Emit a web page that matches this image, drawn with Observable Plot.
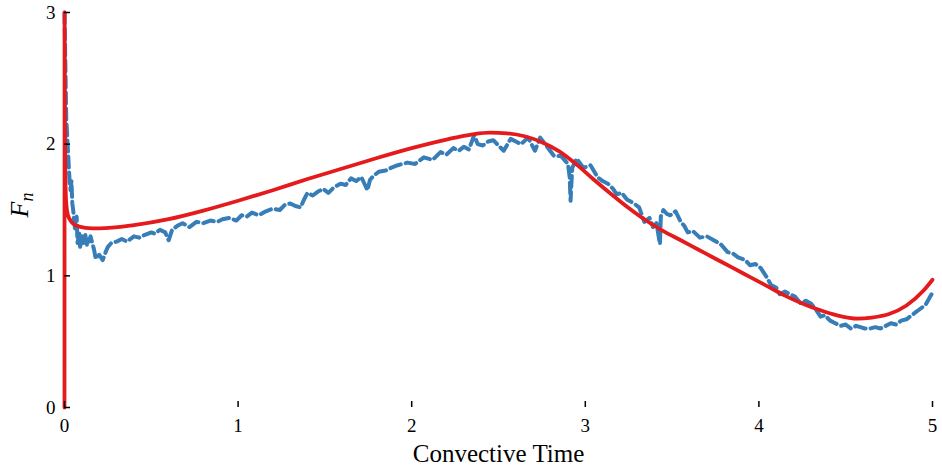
<!DOCTYPE html>
<html><head><meta charset="utf-8">
<script src="https://cdn.jsdelivr.net/npm/d3@7"></script>
<script src="https://cdn.jsdelivr.net/npm/@observablehq/plot@0.6"></script>
<style>body{margin:0;background:#fff}</style>
</head><body><div id="chart"></div>
<script>
const xTicks = [0, 1, 2, 3, 4, 5];
const yTicks = [0, 1, 2, 3];
const xLabel = "Convective Time";

const modelT = [0, 0.0005, 0.002, 0.005, 0.01, 0.02, 0.04, 0.07, 0.12, 0.2, 0.4, 0.6, 0.8, 1.0, 1.2, 1.4, 1.6, 1.8, 2.0, 2.2, 2.35, 2.45, 2.55, 2.65, 2.75, 2.85, 2.95, 3.05, 3.15, 3.25, 3.35, 3.45, 3.55, 3.65, 3.75, 3.85, 3.95, 4.05, 4.15, 4.25, 4.35, 4.45, 4.57, 4.65, 4.75, 4.85, 4.95, 5.0];
const modelF = [0, 3.0, 2.2, 1.75, 1.55, 1.46, 1.41, 1.38, 1.365, 1.36, 1.385, 1.43, 1.495, 1.57, 1.65, 1.735, 1.815, 1.895, 1.97, 2.035, 2.075, 2.088, 2.082, 2.06, 2.015, 1.945, 1.845, 1.73, 1.62, 1.515, 1.42, 1.34, 1.27, 1.2, 1.13, 1.06, 0.99, 0.92, 0.85, 0.79, 0.74, 0.7, 0.675, 0.683, 0.71, 0.775, 0.89, 0.97];

const simT = [0, 0.005, 0.01, 0.02, 0.03, 0.035, 0.04, 0.045, 0.05, 0.06, 0.065, 0.07, 0.075, 0.085, 0.09, 0.1, 0.11, 0.12, 0.13, 0.15, 0.17, 0.18, 0.2, 0.22, 0.24, 0.25, 0.27, 0.3, 0.33, 0.36, 0.4, 0.43, 0.46, 0.5, 0.52, 0.55, 0.58, 0.6, 0.62, 0.65, 0.68, 0.72, 0.76, 0.8, 0.84, 0.88, 0.91, 0.95, 0.99, 1.02, 1.05, 1.08, 1.12, 1.16, 1.2, 1.24, 1.27, 1.3, 1.33, 1.36, 1.38, 1.4, 1.43, 1.46, 1.49, 1.52, 1.55, 1.59, 1.62, 1.65, 1.68, 1.71, 1.745, 1.76, 1.78, 1.81, 1.85, 1.88, 1.92, 1.975, 2.02, 2.07, 2.12, 2.166, 2.2, 2.24, 2.27, 2.3, 2.33, 2.36, 2.38, 2.41, 2.44, 2.47, 2.5, 2.53, 2.57, 2.6, 2.63, 2.67, 2.71, 2.74, 2.78, 2.82, 2.86, 2.9, 2.91, 2.915, 2.92, 2.925, 2.95, 2.99, 3.03, 3.07, 3.1, 3.13, 3.16, 3.18, 3.21, 3.24, 3.28, 3.31, 3.34, 3.37, 3.39, 3.41, 3.43, 3.435, 3.45, 3.47, 3.49, 3.52, 3.55, 3.57, 3.59, 3.62, 3.66, 3.7, 3.74, 3.78, 3.82, 3.85, 3.88, 3.92, 3.95, 3.98, 4.01, 4.04, 4.07, 4.1, 4.12, 4.15, 4.18, 4.21, 4.24, 4.27, 4.3, 4.33, 4.355, 4.38, 4.41, 4.44, 4.47, 4.5, 4.53, 4.56, 4.585, 4.61, 4.64, 4.67, 4.7, 4.73, 4.76, 4.79, 4.82, 4.85, 4.87, 4.9, 4.93, 4.96, 4.99, 5.0];
const simF = [3.0, 2.6, 2.2, 1.95, 1.7, 1.65, 1.72, 1.55, 1.5, 1.36, 1.42, 1.45, 1.25, 1.32, 1.22, 1.3, 1.25, 1.31, 1.23, 1.3, 1.2, 1.13, 1.16, 1.12, 1.19, 1.22, 1.25, 1.26, 1.28, 1.26, 1.3, 1.29, 1.31, 1.33, 1.32, 1.35, 1.33, 1.27, 1.35, 1.38, 1.40, 1.37, 1.41, 1.40, 1.42, 1.41, 1.43, 1.44, 1.42, 1.46, 1.45, 1.48, 1.46, 1.49, 1.51, 1.50, 1.54, 1.55, 1.53, 1.52, 1.58, 1.63, 1.61, 1.64, 1.66, 1.63, 1.67, 1.70, 1.69, 1.74, 1.72, 1.75, 1.65, 1.73, 1.76, 1.79, 1.80, 1.82, 1.84, 1.86, 1.85, 1.90, 1.88, 1.94, 1.92, 1.97, 1.95, 1.98, 1.96, 2.07, 2.0, 1.99, 2.02, 2.03, 1.99, 1.95, 2.04, 2.02, 2.00, 2.05, 1.95, 2.05, 1.98, 1.91, 1.91, 1.85, 1.75, 1.57, 1.70, 1.82, 1.89, 1.82, 1.84, 1.75, 1.72, 1.70, 1.66, 1.62, 1.63, 1.58, 1.55, 1.52, 1.41, 1.44, 1.37, 1.40, 1.24, 1.45, 1.50, 1.47, 1.46, 1.49, 1.41, 1.38, 1.33, 1.34, 1.29, 1.30, 1.27, 1.24, 1.18, 1.17, 1.14, 1.12, 1.08, 1.09, 1.06, 1.00, 0.93, 0.91, 0.86, 0.88, 0.86, 0.84, 0.79, 0.81, 0.79, 0.74, 0.69, 0.70, 0.66, 0.64, 0.62, 0.63, 0.60, 0.62, 0.61, 0.60, 0.60, 0.61, 0.60, 0.62, 0.64, 0.63, 0.66, 0.67, 0.69, 0.72, 0.75, 0.78, 0.85, 0.87];

const model = modelT.map((t, i) => ({t, f: modelF[i]}));
const sim = simT.map((t, i) => ({t, f: simF[i]}));

const font = "'Liberation Serif', serif";
const W = 942, H = 469, ML = 64, MR = 10, MT = 12, MB = 62;
const chart = Plot.plot({
  width: W,
  height: H,
  marginLeft: ML,
  marginRight: MR,
  marginTop: MT,
  marginBottom: MB,
  style: {fontFamily: font, fontSize: "19px", background: "#fff", color: "#000"},
  x: {domain: [0, 5], ticks: xTicks, label: null},
  y: {domain: [0, 3], ticks: yTicks, label: null},
  marks: [
    Plot.line(sim, {x: "t", y: "f", stroke: "#377eb8", strokeWidth: 4, strokeDasharray: "11,5", strokeLinejoin: "round"}),
    Plot.line(model, {x: "t", y: "f", stroke: "#e41a1c", strokeWidth: 3.8, curve: "monotone-x"}),
    Plot.tickX(xTicks, {x: d => d, stroke: "#000", strokeWidth: 1.5, insetTop: H - MT - MB - 6}),
    Plot.tickY(yTicks, {y: d => d, stroke: "#000", strokeWidth: 1.5, insetRight: W - ML - MR - 6}),
    Plot.axisX({ticks: xTicks, tickSize: 0, tickPadding: 11, tickFormat: d3.format("d"), line: true, stroke: "#000", strokeWidth: 1.5, label: null, fontSize: 19}),
    Plot.axisY({ticks: yTicks, tickSize: 0, tickPadding: 9, tickFormat: d3.format("d"), line: true, stroke: "#000", strokeWidth: 1.5, label: null, fontSize: 19}),
    Plot.text([xLabel], {frameAnchor: "bottom", dy: 54, fontSize: 25, fontFamily: font, letterSpacing: "1.3px"})
  ]
});
document.getElementById("chart").appendChild(chart);
const svg = d3.select(chart);
const yl = svg.append("text")
  .attr("transform", "translate(28,205) rotate(-90)")
  .attr("text-anchor", "middle")
  .attr("font-family", font)
  .attr("font-size", 26);
yl.append("tspan").attr("font-style", "italic").text("F");
yl.append("tspan").attr("font-style", "italic").attr("font-size", 18).attr("dy", 5).text("n");
</script>
</body></html>
